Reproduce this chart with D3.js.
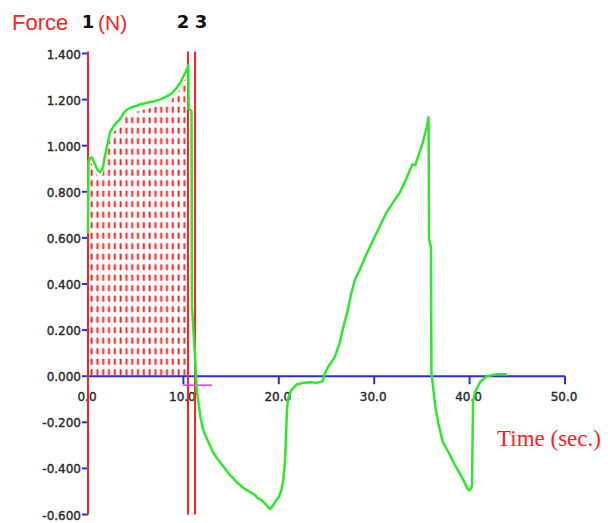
<!DOCTYPE html>
<html>
<head>
<meta charset="utf-8">
<script src="https://cdn.jsdelivr.net/npm/d3@7"></script>
<style>
  body { margin: 0; background: #fff; }
  svg { display: block; }
</style>
</head>
<body>
<svg id="svg" width="608" height="523"></svg>
<script>
// force curve (time in s, force in N)
const times = [0, 0.05, 0.2, 0.42, 0.6, 0.73, 1.0, 1.26, 1.45, 1.57, 1.75, 1.99, 2.15, 2.31, 2.62, 2.9, 3.1, 3.35, 3.7, 4.09,
    4.5, 5.0, 5.45, 6.1, 6.81, 7.5, 8.28, 8.8, 9.33, 9.7, 9.96, 10.25, 10.48,
    10.52, 10.55, 10.85, 10.9, 11.2, 11.4, 11.6, 11.8, 12.05, 12.5, 13.1, 13.6, 14.15, 14.8, 15.6, 16.3, 17.0, 17.5, 17.8,
    18.03, 18.5, 19.08, 19.4, 19.8, 20.0, 20.3, 20.5, 20.65, 20.86, 20.96, 21.3, 21.9, 22.5, 23.3, 24.0, 24.6,
    24.8, 25.2, 25.6, 25.9, 26.4, 26.8, 27.2, 27.6, 28.0, 28.5, 29.2, 30.0, 30.7, 31.3, 32.0, 32.7, 33.4, 33.8,
    34.0, 34.3, 34.6, 35.0, 35.5, 35.7,
    35.75, 35.95, 36.0, 36.4, 36.7, 37.1, 37.2, 37.8, 38.3, 38.8, 39.3, 39.8, 40.0, 40.25, 40.36, 40.57, 41.1, 41.8, 42.9, 43.9]
const forces = [0.62, 0.93, 0.945, 0.95, 0.93, 0.92, 0.895, 0.884, 0.895, 0.906, 0.95, 0.997, 1.03, 1.058, 1.08, 1.095, 1.105, 1.114, 1.14, 1.157,
    1.165, 1.172, 1.179, 1.185, 1.192, 1.2, 1.214, 1.228, 1.253, 1.275, 1.297, 1.32, 1.344,
    1.35, 1.16, 1.15, 0.30, 0.10, -0.065, -0.12, -0.18, -0.23, -0.275, -0.33, -0.36, -0.39, -0.425, -0.46, -0.485, -0.503, -0.515, -0.53,
    -0.533, -0.55, -0.577, -0.56, -0.533, -0.525, -0.49, -0.44, -0.373, -0.143, -0.10, -0.06, -0.035, -0.03, -0.026, -0.028, -0.022,
    0.009, 0.043, 0.065, 0.087, 0.147, 0.22, 0.28, 0.36, 0.42, 0.464, 0.53, 0.6, 0.66, 0.711, 0.755, 0.798, 0.86, 0.9,
    0.919, 0.915, 0.954, 1.0, 1.079, 1.123,
    0.594, 0.56, 0.017, -0.13, -0.2, -0.27, -0.286, -0.33, -0.373, -0.41, -0.446, -0.49, -0.495, -0.48, -0.113, -0.069, -0.026, 0, 0.009, 0.009]

const xTicks = [0, 10, 20, 30, 40, 50]
const yTicks = [-0.6, -0.4, -0.2, 0, 0.2, 0.4, 0.6, 0.8, 1.0, 1.2, 1.4]
const cursors = [0, 10.48, 11.22]
const cursorLabels = ["1", "2", "3"]
const fillRange = [0.05, 10.3]   // integrated region (dotted)
const marker = [9.96, 13.0, -0.039] // small magenta marker: t start, t end, force

const svg = d3.select("#svg")

const x = d3.scaleLinear().domain([0, 50]).range([88, 565])
const y = d3.scaleLinear().domain([-0.6, 1.4]).range([514.5, 53.5])

const data = times.map((t, i) => ({t: t, f: forces[i]}))

// dotted fill pattern
const defs = svg.append('defs')
const pat = defs.append('pattern')
    .attr('id', 'dots')
    .attr('patternUnits', 'userSpaceOnUse')
    .attr('x', 90).attr('y', y(0))
    .attr('width', 5.8).attr('height', 10.5)
pat.append('rect')
    .attr('x', 0.6).attr('y', 3.5)
    .attr('width', 2).attr('height', 6)
    .attr('fill', '#ff2020')

const fillData = data.filter(d => d.t >= fillRange[0] && d.t <= fillRange[1])
const area = d3.area()
    .x(d => x(d.t))
    .y0(y(0))
    .y1(d => y(d.f) + 6)
svg.append('path')
    .datum(fillData)
    .attr('d', area)
    .attr('fill', 'url(#dots)')

// x axis (blue)
svg.append('line')
    .attr('x1', x(0)).attr('x2', x(50))
    .attr('y1', y(0)).attr('y2', y(0))
    .attr('stroke', '#2a2aee').attr('stroke-width', 2)
svg.selectAll('.xtick').data(xTicks)
    .enter().append('line')
        .attr('class', 'xtick')
        .attr('x1', d => x(d)).attr('x2', d => x(d))
        .attr('y1', y(0)).attr('y2', y(0) + 8)
        .attr('stroke', '#2a2aee').attr('stroke-width', 2)
svg.selectAll('.xlabel').data(xTicks)
    .enter().append('text')
        .attr('class', 'xlabel')
        .attr('x', d => x(d) - 1)
        .attr('y', y(0) + 25)
        .attr('text-anchor', 'middle')
        .attr('font-family', 'DejaVu Sans')
        .attr('font-size', 12)
        .attr('fill', '#2a2a2a')
        .attr('stroke', '#2a2a2a').attr('stroke-width', 0.4)
        .text(d => d.toFixed(1))

// y axis ticks (blue) and labels
svg.selectAll('.ytick').data(yTicks)
    .enter().append('line')
        .attr('class', 'ytick')
        .attr('x1', x(0) - 6).attr('x2', x(0))
        .attr('y1', d => y(d)).attr('y2', d => y(d))
        .attr('stroke', '#2a2aee').attr('stroke-width', 2)
svg.selectAll('.ylabel').data(yTicks)
    .enter().append('text')
        .attr('class', 'ylabel')
        .attr('x', x(0) - 7)
        .attr('y', d => y(d) + 5)
        .attr('text-anchor', 'end')
        .attr('font-family', 'DejaVu Sans')
        .attr('font-size', 12)
        .attr('fill', '#2a2a2a')
        .attr('stroke', '#2a2a2a').attr('stroke-width', 0.4)
        .text(d => d.toFixed(3))

// cursors (red verticals, the first one is the y axis)
svg.selectAll('.cursor').data(cursors)
    .enter().append('line')
        .attr('class', 'cursor')
        .attr('x1', d => x(d)).attr('x2', d => x(d))
        .attr('y1', y(1.4) - 2).attr('y2', y(-0.6))
        .attr('stroke', '#ff2020').attr('stroke-width', 2)

// magenta marker
svg.append('line')
    .attr('x1', x(marker[0])).attr('x2', x(marker[1]))
    .attr('y1', y(marker[2])).attr('y2', y(marker[2]))
    .attr('stroke', '#ee30ee').attr('stroke-width', 1.5)

// force curve
const line = d3.line()
    .x(d => x(d.t))
    .y(d => y(d.f))
svg.append('path')
    .datum(data)
    .attr('d', line)
    .attr('fill', 'none')
    .attr('stroke', '#2ee82e')
    .attr('stroke-width', 2.5)
    .attr('stroke-linejoin', 'round')

// titles
svg.append('text')
    .attr('x', 12).attr('y', 30)
    .attr('font-family', 'Liberation Sans')
    .attr('font-size', 22)
    .attr('fill', '#ff2020')
    .text('Force')
svg.append('text')
    .attr('x', 98).attr('y', 30)
    .attr('font-family', 'Liberation Sans')
    .attr('font-size', 21)
    .attr('fill', '#ff2020')
    .text('(N)')
svg.selectAll('.clabel').data(cursors)
    .enter().append('text')
        .attr('class', 'clabel')
        .attr('x', (d, i) => x(d) + (i === 0 ? 0 : i === 1 ? -5 : 6))
        .attr('y', 28)
        .attr('text-anchor', 'middle')
        .attr('font-family', 'DejaVu Sans')
        .attr('font-weight', 'bold')
        .attr('font-size', 18)
        .attr('fill', '#111')
        .text((d, i) => cursorLabels[i])
svg.append('text')
    .attr('x', 497).attr('y', 446)
    .attr('font-family', 'Liberation Serif')
    .attr('font-size', 23)
    .attr('fill', '#ff2020')
    .text('Time (sec.)')
</script>
</body>
</html>
